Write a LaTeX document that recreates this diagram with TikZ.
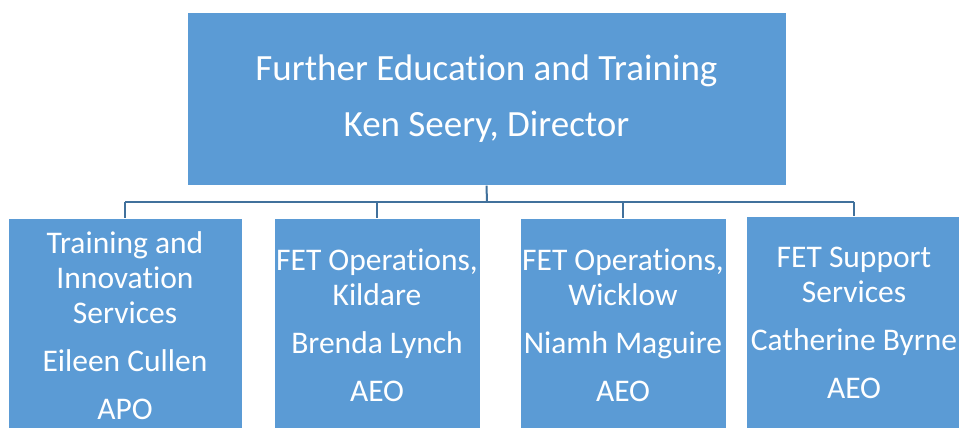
\documentclass[tikz,border=0pt]{standalone}
\usepackage{fontspec}
\setmainfont[Ligatures=NoCommon]{Carlito}
\usetikzlibrary{positioning}

\definecolor{boxblue}{HTML}{5B9BD5}
\definecolor{linkblue}{HTML}{41719C}

\tikzset{
  unit/.style={draw=white, line width=0.6pt, fill=boxblue, text=white,
    align=center, inner sep=0pt, anchor=north},
  head/.style={unit, minimum width=599pt, minimum height=173pt,
    font=\fontsize{37}{56}\selectfont},
  sub/.style={unit, minimum height=214pt,
    font=\fontsize{31.5}{35}\selectfont},
  link/.style={draw=linkblue, line width=2pt}
}

\begin{document}
\begin{tikzpicture}[x=1pt, y=-1pt]
\useasboundingbox (0,0) rectangle (959,428);
\clip (0,0) rectangle (959,428);

\node[head] (fet) at (486.5,12) {Further Education and Training\\Ken Seery, Director};

\node[sub, minimum width=234pt] (tis) at (125,218) {Training and\\Innovation\\Services\\[13pt]Eileen Cullen\\[13pt]APO};
\node[sub, minimum width=206pt] (kil) at (377,218) {FET Operations,\\Kildare\\[13pt]Brenda Lynch\\[13pt]AEO};
\node[sub, minimum width=206pt] (wic) at (623,218) {FET Operations,\\Wicklow\\[13pt]Niamh Maguire\\[13pt]AEO};
\node[sub, minimum width=216pt] (sup) at (854,216) {FET Support\\Services\\[13pt]Catherine Byrne\\[13pt]AEO};

\coordinate (bus) at (487,202);

\draw[link] (fet.south) -- (bus);
\draw[link] (bus -| tis.north) -- (bus -| sup.north);
\draw[link] (bus -| tis.north) -- (tis.north);
\draw[link] (bus -| kil.north) -- (kil.north);
\draw[link] (bus -| wic.north) -- (wic.north);
\draw[link] (bus -| sup.north) -- (sup.north);
\end{tikzpicture}
\end{document}
